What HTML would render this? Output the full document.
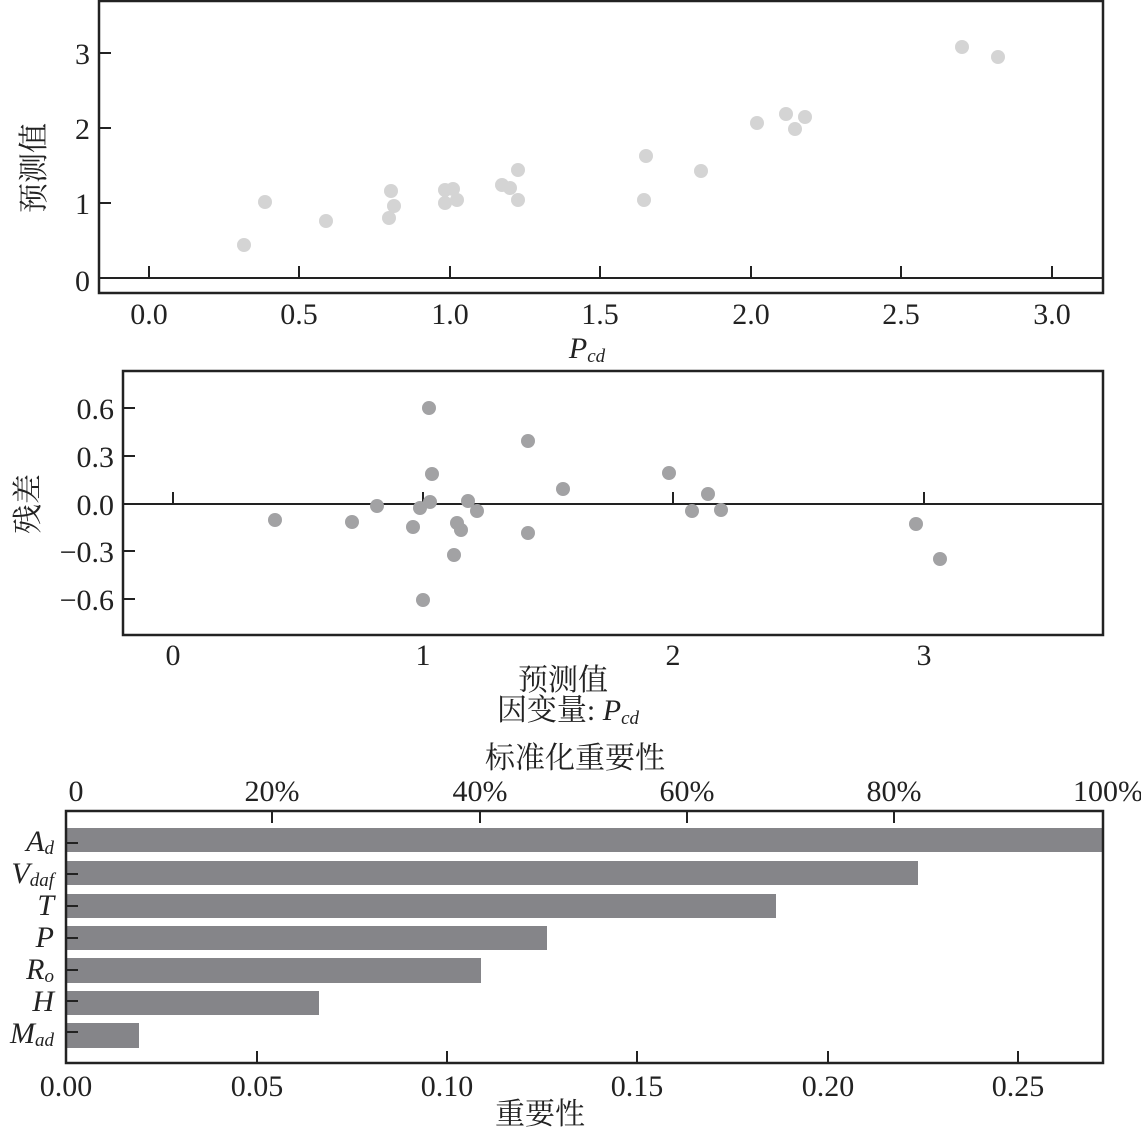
<!DOCTYPE html>
<html><head><meta charset="utf-8"><style>
html,body{margin:0;padding:0;background:#fff;}
svg{display:block;}
text{font-family:"Liberation Serif","Noto Serif CJK SC",serif;fill:#222;}
.t{font-size:30px;}
.c{font-size:30px;}
</style></head><body>
<svg width="1141" height="1133" viewBox="0 0 1141 1133" xmlns="http://www.w3.org/2000/svg">
<!-- Top panel -->
<rect x="99" y="1" width="1004" height="292" fill="none" stroke="#222" stroke-width="2.5"/>
<line x1="99" y1="278" x2="1103" y2="278" stroke="#222" stroke-width="2"/>
<g stroke="#222" stroke-width="2">
<line x1="149" y1="266" x2="149" y2="278"/><line x1="299" y1="266" x2="299" y2="278"/>
<line x1="450" y1="266" x2="450" y2="278"/><line x1="600" y1="266" x2="600" y2="278"/>
<line x1="751" y1="266" x2="751" y2="278"/><line x1="901" y1="266" x2="901" y2="278"/>
<line x1="1052" y1="266" x2="1052" y2="278"/>
<line x1="99" y1="53" x2="111" y2="53"/><line x1="99" y1="128" x2="111" y2="128"/><line x1="99" y1="203" x2="111" y2="203"/>
</g>
<g class="t" text-anchor="end">
<text x="90" y="64">3</text><text x="90" y="139">2</text><text x="90" y="214">1</text><text x="90" y="291">0</text>
</g>
<g class="t" text-anchor="middle">
<text x="149" y="324">0.0</text><text x="299" y="324">0.5</text><text x="450" y="324">1.0</text><text x="600" y="324">1.5</text><text x="751" y="324">2.0</text><text x="901" y="324">2.5</text><text x="1052" y="324">3.0</text>
</g>
<text x="587" y="358" class="t" text-anchor="middle" font-style="italic">P<tspan font-size="19" dy="4">cd</tspan></text>
<text class="c" transform="translate(44,168) rotate(-90)" text-anchor="middle">预测值</text>
<g fill="#d4d4d4">
<circle cx="244" cy="245" r="7"/><circle cx="265" cy="202" r="7"/><circle cx="326" cy="221" r="7"/><circle cx="389" cy="218" r="7"/><circle cx="391" cy="191" r="7"/><circle cx="394" cy="206" r="7"/><circle cx="445" cy="190" r="7"/><circle cx="445" cy="203" r="7"/><circle cx="453" cy="189" r="7"/><circle cx="457" cy="200" r="7"/><circle cx="502" cy="185" r="7"/><circle cx="510" cy="188" r="7"/><circle cx="518" cy="170" r="7"/><circle cx="518" cy="200" r="7"/><circle cx="644" cy="200" r="7"/><circle cx="646" cy="156" r="7"/><circle cx="701" cy="171" r="7"/><circle cx="757" cy="123" r="7"/><circle cx="786" cy="114" r="7"/><circle cx="795" cy="129" r="7"/><circle cx="805" cy="117" r="7"/><circle cx="962" cy="47" r="7"/><circle cx="998" cy="57" r="7"/>
</g>
<!-- Middle panel -->
<rect x="123" y="371" width="980" height="264" fill="none" stroke="#222" stroke-width="2.5"/>
<line x1="123" y1="504" x2="1103" y2="504" stroke="#222" stroke-width="2"/>
<g stroke="#222" stroke-width="2">
<line x1="173" y1="492" x2="173" y2="504"/><line x1="423" y1="492" x2="423" y2="504"/><line x1="673" y1="492" x2="673" y2="504"/><line x1="924" y1="492" x2="924" y2="504"/>
<line x1="123" y1="408" x2="135" y2="408"/><line x1="123" y1="456" x2="135" y2="456"/><line x1="123" y1="551" x2="135" y2="551"/><line x1="123" y1="599" x2="135" y2="599"/>
</g>
<g class="t" text-anchor="end">
<text x="114" y="419">0.6</text><text x="114" y="467">0.3</text><text x="114" y="515">0.0</text><text x="114" y="562">−0.3</text><text x="114" y="610">−0.6</text>
</g>
<g class="t" text-anchor="middle">
<text x="173" y="665">0</text><text x="423" y="665">1</text><text x="673" y="665">2</text><text x="924" y="665">3</text>
</g>
<text x="563" y="690" class="c" text-anchor="middle">预测值</text>
<text x="568" y="720" class="c" text-anchor="middle">因变量: <tspan font-style="italic">P</tspan><tspan font-style="italic" font-size="19" dy="4">cd</tspan></text>
<text class="c" transform="translate(38,504) rotate(-90)" text-anchor="middle">残差</text>
<g fill="#a2a2a4">
<circle cx="275" cy="520" r="7"/><circle cx="352" cy="522" r="7"/><circle cx="377" cy="506" r="7"/><circle cx="413" cy="527" r="7"/><circle cx="420" cy="508" r="7"/><circle cx="423" cy="600" r="7"/><circle cx="429" cy="408" r="7"/><circle cx="430" cy="502" r="7"/><circle cx="432" cy="474" r="7"/><circle cx="457" cy="523" r="7"/><circle cx="461" cy="530" r="7"/><circle cx="454" cy="555" r="7"/><circle cx="468" cy="501" r="7"/><circle cx="477" cy="511" r="7"/><circle cx="528" cy="441" r="7"/><circle cx="528" cy="533" r="7"/><circle cx="563" cy="489" r="7"/><circle cx="669" cy="473" r="7"/><circle cx="692" cy="511" r="7"/><circle cx="708" cy="494" r="7"/><circle cx="721" cy="510" r="7"/><circle cx="916" cy="524" r="7"/><circle cx="940" cy="559" r="7"/>
</g>
<!-- Bottom panel -->
<text x="575" y="768" class="c" text-anchor="middle">标准化重要性</text>
<g class="t" text-anchor="middle">
<text x="76" y="801">0</text><text x="272" y="801">20%</text><text x="480" y="801">40%</text><text x="687" y="801">60%</text><text x="894" y="801">80%</text><text x="1108" y="801">100%</text>
</g>
<g fill="#858589">
<rect x="66" y="828" width="1037" height="24"/>
<rect x="66" y="861" width="852" height="24"/>
<rect x="66" y="894" width="710" height="24"/>
<rect x="66" y="926" width="481" height="24"/>
<rect x="66" y="958" width="415" height="25"/>
<rect x="66" y="991" width="253" height="24"/>
<rect x="66" y="1023" width="73" height="25"/>
</g>
<rect x="66" y="811" width="1037" height="252" fill="none" stroke="#222" stroke-width="2.5"/>
<g stroke="#222" stroke-width="2">
<line x1="272" y1="811" x2="272" y2="823"/><line x1="480" y1="811" x2="480" y2="823"/><line x1="687" y1="811" x2="687" y2="823"/><line x1="894" y1="811" x2="894" y2="823"/>
<line x1="257" y1="1051" x2="257" y2="1063"/><line x1="447" y1="1051" x2="447" y2="1063"/><line x1="637" y1="1051" x2="637" y2="1063"/><line x1="828" y1="1051" x2="828" y2="1063"/><line x1="1018" y1="1051" x2="1018" y2="1063"/>
<line x1="66" y1="843" x2="78" y2="843"/><line x1="66" y1="874" x2="78" y2="874"/><line x1="66" y1="906" x2="78" y2="906"/><line x1="66" y1="938" x2="78" y2="938"/><line x1="66" y1="970" x2="78" y2="970"/><line x1="66" y1="1001" x2="78" y2="1001"/><line x1="66" y1="1032" x2="78" y2="1032"/>
</g>
<g class="t" text-anchor="middle">
<text x="66" y="1096">0.00</text><text x="257" y="1096">0.05</text><text x="447" y="1096">0.10</text><text x="637" y="1096">0.15</text><text x="828" y="1096">0.20</text><text x="1018" y="1096">0.25</text>
</g>
<text x="540" y="1124" class="c" text-anchor="middle">重要性</text>
<g class="t" text-anchor="end" font-style="italic">
<text x="54" y="851">A<tspan font-size="19" dy="3">d</tspan></text>
<text x="54" y="883">V<tspan font-size="19" dy="3">daf</tspan></text>
<text x="54" y="915">T</text>
<text x="54" y="947">P</text>
<text x="54" y="979">R<tspan font-size="19" dy="3">o</tspan></text>
<text x="54" y="1011">H</text>
<text x="54" y="1043">M<tspan font-size="19" dy="3">ad</tspan></text>
</g>
</svg>
</body></html>
